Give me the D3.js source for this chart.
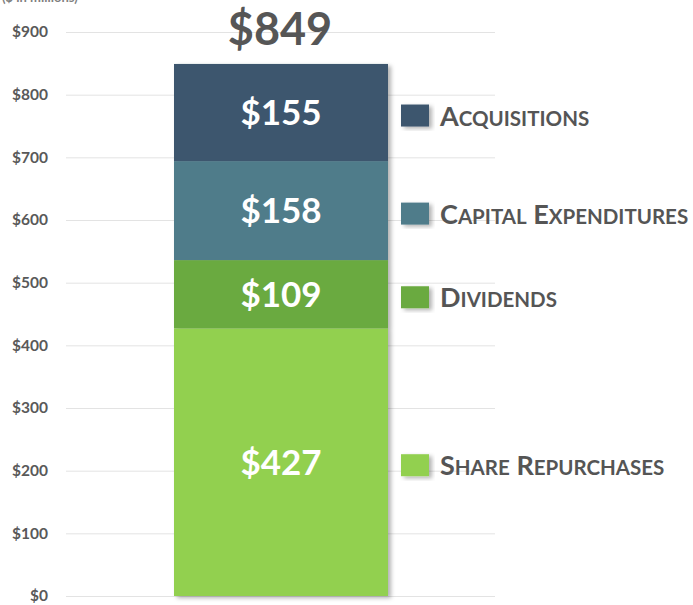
<!DOCTYPE html>
<html>
<head>
<meta charset="utf-8">
<script src="https://cdn.jsdelivr.net/npm/d3@7"></script>
<style>
  html, body { margin: 0; padding: 0; background: #fff; }
  svg { display: block; font-family: Lato, "Open Sans", sans-serif; }
</style>
</head>
<body>
<svg id="chart" width="693" height="605"></svg>
<script>
// Uses of cash, $ in millions, stacked bottom to top
const categories = ["Share Repurchases", "Dividends", "Capital Expenditures", "Acquisitions"];
const values = [427, 109, 158, 155];
const colors = ["#92d050", "#6aaa3f", "#4f7c8a", "#3c566e"];
const tickValues = [0, 100, 200, 300, 400, 500, 600, 700, 800, 900];
const total = 849;

const svg = d3.select("#chart");
const margin = { top: 32, bottom: 9, left: 66, right: 198 };
const W = 693, H = 605;

const y = d3.scaleLinear().domain([0, 900]).range([H - margin.bottom, margin.top]);
// single column band for the stacked bar
const barX = d3.scaleBand().domain(["total"]).range([174, 388]);

const defs = svg.append("defs");
const shadow = defs.append("filter").attr("id", "shadow").attr("x", "-10%").attr("y", "-10%").attr("width", "130%").attr("height", "130%");
shadow.append("feDropShadow").attr("dx", 3).attr("dy", 2).attr("stdDeviation", 2).attr("flood-color", "#000").attr("flood-opacity", 0.3);

// units note above the axis
svg.append("text").attr("x", 2).attr("y", 2)
  .attr("font-size", 13).attr("font-weight", "bold").attr("fill", "#7f7f7f")
  .text("($ in millions)");

// gridlines and axis labels
const axis = d3.axisLeft(y).tickValues(tickValues).tickSize(-(495 - margin.left)).tickPadding(18)
  .tickFormat(d => "$" + d);
const gAxis = svg.append("g").attr("transform", `translate(${margin.left},0)`).call(axis);
gAxis.select(".domain").remove();
gAxis.selectAll(".tick line").attr("stroke", "#e3e3e3").attr("stroke-width", 1);
gAxis.selectAll(".tick text").attr("fill", "#595959").attr("font-size", 15.5).attr("font-weight", "bold")
  .attr("font-family", "Lato, 'Open Sans', sans-serif");

// stacked segments
let acc = 0;
const segs = values.map((v, i) => {
  const s = { name: categories[i], v, y0: acc, y1: acc + v, color: colors[i] };
  acc += v;
  return s;
});

const bars = svg.append("g").attr("filter", "url(#shadow)");
bars.selectAll("rect").data(segs).enter().append("rect")
  .attr("x", barX("total"))
  .attr("width", barX.bandwidth())
  .attr("y", d => y(d.y1))
  .attr("height", d => y(d.y0) - y(d.y1))
  .attr("fill", d => d.color);

// segment value labels
svg.append("g").selectAll("text").data(segs).enter().append("text")
  .attr("x", barX("total") + barX.bandwidth() / 2)
  .attr("y", d => y((d.y0 + d.y1) / 2))
  .attr("dy", "0.36em")
  .attr("text-anchor", "middle")
  .attr("font-size", 35).attr("font-weight", "bold").attr("fill", "#fff")
  .text(d => "$" + d.v);

// total above the bar
svg.append("text")
  .attr("x", barX("total") + barX.bandwidth() / 2 - 1)
  .attr("y", y(total) - 19)
  .attr("text-anchor", "middle")
  .attr("font-size", 45).attr("font-weight", "bold").attr("fill", "#565656")
  .text("$" + total);

// legend in small caps, beside each segment
const lg = svg.append("g");
segs.forEach(d => {
  const cy = y((d.y0 + d.y1) / 2) + 3;
  lg.append("rect").attr("x", 401).attr("y", cy - 11).attr("width", 28).attr("height", 22)
    .attr("fill", d.color).attr("filter", "url(#shadow)");
  const t = lg.append("text").attr("x", 440).attr("y", cy + 10)
    .attr("fill", "#555").attr("font-weight", "bold");
  d.name.split(" ").forEach((word, wi) => {
    t.append("tspan").attr("font-size", 27).text((wi ? " " : "") + word[0].toUpperCase());
    t.append("tspan").attr("font-size", 20.5).text(word.slice(1).toUpperCase());
  });
});
</script>
</body>
</html>
